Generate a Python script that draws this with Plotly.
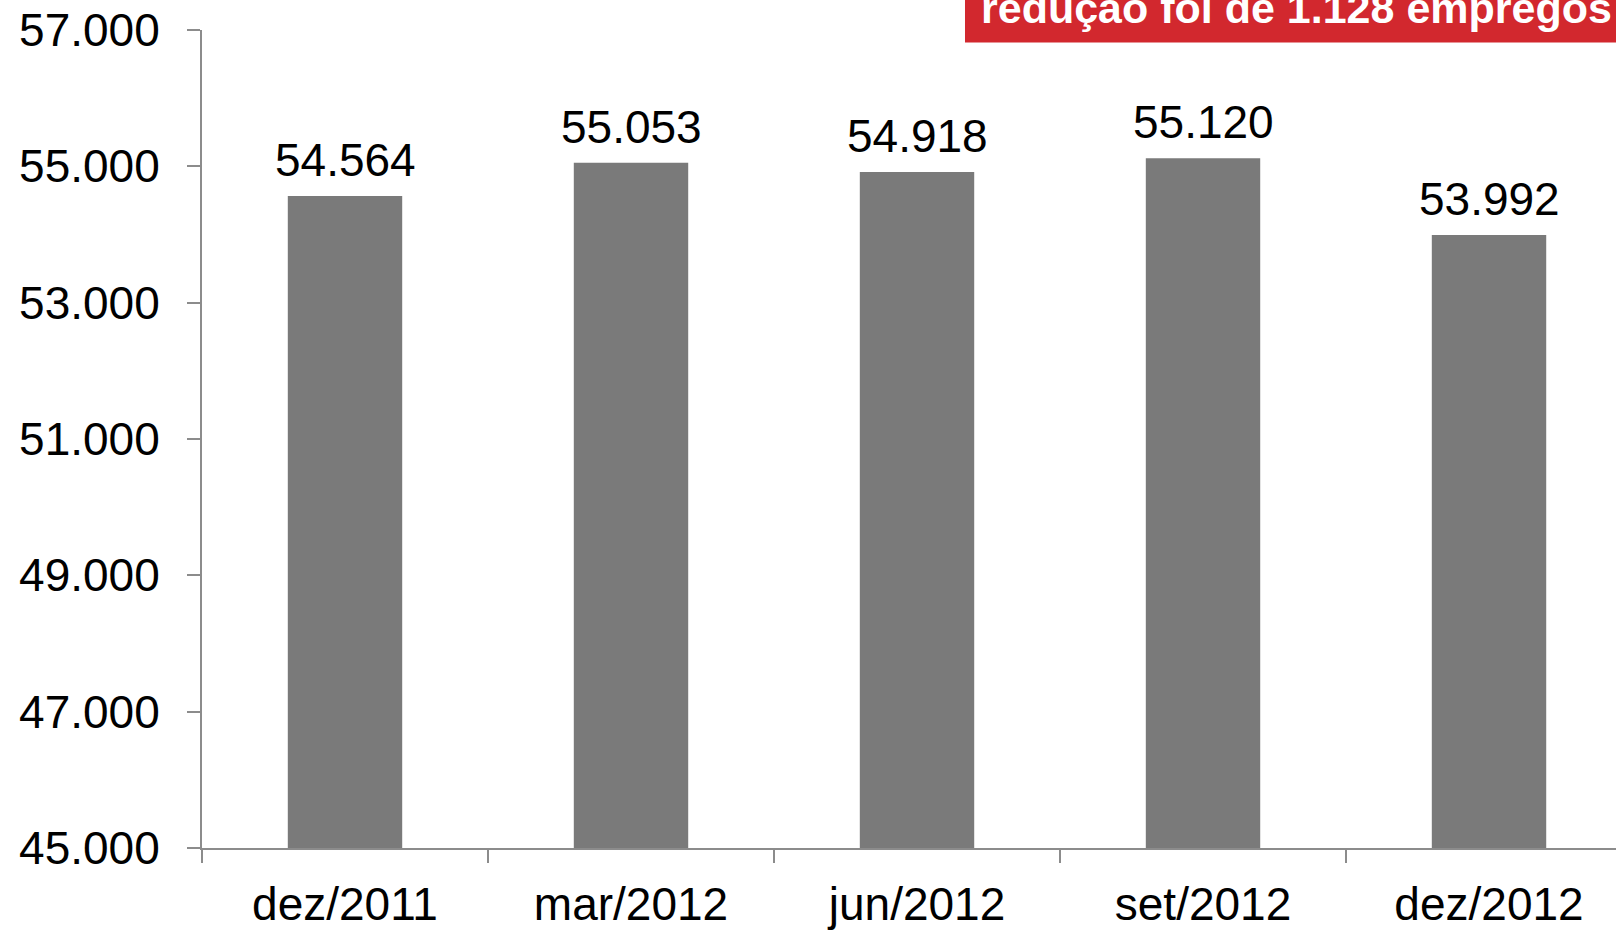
import plotly.graph_objects as go

categories = ["dez/2011", "mar/2012", "jun/2012", "set/2012", "dez/2012"]
values = [54564, 55053, 54918, 55120, 53992]
y_ticks = [45000, 47000, 49000, 51000, 53000, 55000, 57000]
note_text = "redução foi de 1.128 empregos"

FONT = "Liberation Sans, Arial, Helvetica, sans-serif"
BAR = "#7a7a7a"
AXIS = "#8c8c8c"
RED = "#d2282e"

def fmt(v):
    return f"{v:,}".replace(",", ".")

fig = go.Figure()
fig.add_trace(go.Bar(
    x=categories, y=values, width=0.4,
    marker=dict(color=BAR, line=dict(width=0)),
    hoverinfo="skip",
))

for c, v in zip(categories, values):
    fig.add_annotation(
        x=c, y=v, xref="x", yref="y", text=fmt(v), showarrow=False,
        yanchor="bottom", yshift=8,
        font=dict(family=FONT, size=46, color="#000000"),
    )

fig.add_shape(type="rect", xref="paper", yref="paper",
              x0=0.5396, x1=1.05, y0=0.9847, y1=1.08,
              fillcolor=RED, line=dict(width=0), layer="above")
fig.add_annotation(
    xref="paper", yref="paper", x=0.7738, y=0.9951,
    xanchor="center", yanchor="bottom", showarrow=False,
    text="<b>" + note_text + "</b>",
    font=dict(family=FONT, size=43, color="#ffffff"),
)

fig.update_layout(
    width=1616, height=930,
    margin=dict(l=202, r=0, t=30, b=82, autoexpand=False),
    paper_bgcolor="white", plot_bgcolor="white",
    separators=",.",
    showlegend=False,
    font=dict(family=FONT, size=46, color="#000000"),
    bargap=0.6,
)
fig.update_xaxes(
    type="category", range=[-0.5, 4.444], automargin=False,
    showline=True, linecolor=AXIS, linewidth=2,
    ticks="outside", ticklen=13, tickwidth=2, tickcolor=AXIS,
    tickson="boundaries", showgrid=False, zeroline=False,
    tickfont=dict(family=FONT, size=46, color="#000000"),
    ticklabelstandoff=15, ticklabeloverflow="allow",
)
fig.update_yaxes(
    range=[45000, 57000], tickvals=y_ticks, tickformat=",d", automargin=False,
    showline=True, linecolor=AXIS, linewidth=2,
    ticks="outside", ticklen=13, tickwidth=2, tickcolor=AXIS,
    showgrid=False, zeroline=False,
    tickfont=dict(family=FONT, size=46, color="#000000"),
    ticklabelstandoff=18, ticklabeloverflow="allow",
)

fig.write_html(
    "out.html",
    config={"displayModeBar": False},
    post_script="document.body.style.margin='0';document.body.style.overflow='hidden';",
)
